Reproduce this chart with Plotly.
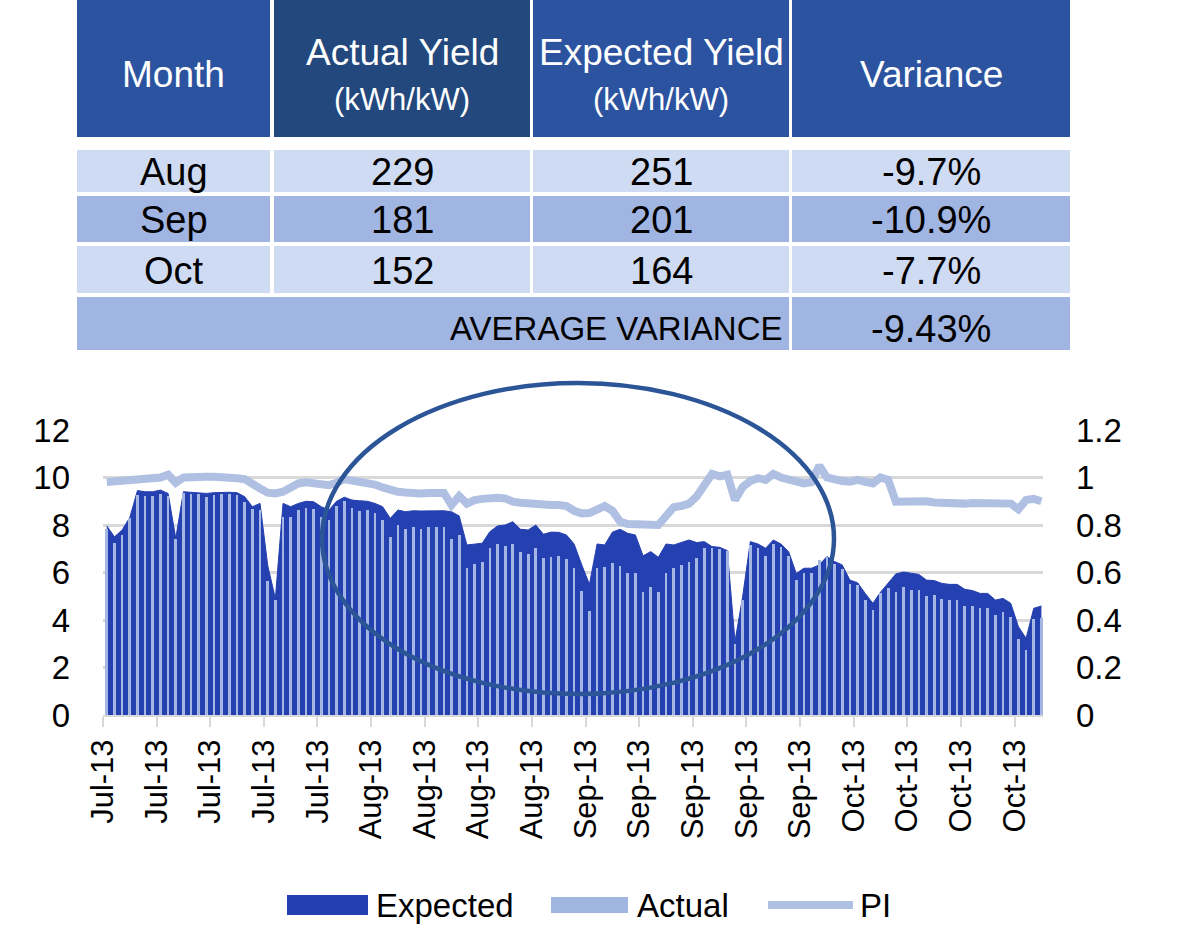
import pandas as pd
import plotly.graph_objects as go

# --- monthly summary table ---
months = ["Aug", "Sep", "Oct"]
actual_yield = [229, 181, 152]
expected_yield = [251, 201, 164]
variance_pct = [-9.7, -10.9, -7.7]
avg_variance_pct = -9.43

# --- daily series, 1 Jul 2013 .. 31 Oct 2013 ---
start_date = "2013-07-01"
expected = [
    7.96, 7.50, 7.79, 8.32, 9.45, 9.40, 9.40, 9.47, 9.33, 7.44,
    9.40, 9.38, 9.36, 9.33, 9.36, 9.38, 9.38, 9.36, 9.19, 8.77,
    8.91, 6.30, 4.90, 8.91, 8.77, 8.91, 9.00, 8.98, 8.77, 8.63,
    9.00, 9.17, 9.05, 9.02, 9.00, 8.91, 8.77, 8.28, 8.63, 8.56,
    8.60, 8.59, 8.60, 8.60, 8.60, 8.56, 8.38, 7.16, 7.20, 7.23,
    7.72, 7.96, 8.00, 8.14, 7.82, 7.79, 8.00, 7.61, 7.70, 7.69,
    7.58, 7.20, 6.32, 5.50, 7.20, 7.16, 7.70, 7.82, 7.65, 7.58,
    6.70, 6.88, 6.64, 7.20, 7.16, 7.26, 7.37, 7.26, 7.30, 7.09,
    7.06, 6.92, 3.10, 4.98, 7.30, 7.20, 7.02, 7.37, 7.20, 6.88,
    5.96, 6.18, 6.18, 6.32, 6.67, 6.46, 6.32, 5.68, 5.57, 5.12,
    4.70, 5.17, 5.54, 5.94, 6.02, 5.96, 5.92, 5.68, 5.66, 5.54,
    5.50, 5.50, 5.29, 5.24, 5.12, 5.12, 4.84, 4.91, 4.70, 3.72,
    3.23, 4.49, 4.59,
]
actual = [
    7.85, 7.25, 7.58, 8.30, 9.26, 9.22, 9.22, 9.30, 9.22, 7.40,
    9.35, 9.30, 9.30, 9.19, 9.25, 9.30, 9.30, 9.25, 8.98, 8.67,
    8.62, 5.65, 4.84, 8.32, 8.32, 8.63, 8.70, 8.67, 8.32, 8.20,
    8.80, 9.00, 8.70, 8.60, 8.63, 8.50, 8.20, 7.51, 8.00, 7.82,
    7.92, 7.85, 7.92, 7.90, 7.92, 7.40, 7.60, 6.20, 6.35, 6.44,
    7.02, 7.20, 7.11, 7.20, 6.86, 6.76, 7.02, 6.60, 6.67, 6.69,
    6.57, 6.20, 5.23, 4.38, 6.18, 6.22, 6.38, 6.27, 5.99, 5.96,
    5.19, 5.40, 5.19, 5.96, 6.18, 6.32, 6.46, 6.60, 7.05, 7.05,
    6.97, 6.92, 3.00, 4.84, 7.16, 7.02, 6.69, 7.20, 7.09, 6.69,
    5.68, 5.99, 5.96, 6.53, 6.65, 6.36, 6.13, 5.52, 5.47, 4.84,
    4.42, 5.12, 5.33, 5.19, 5.40, 5.26, 5.26, 5.01, 5.05, 4.87,
    4.84, 4.84, 4.60, 4.59, 4.52, 4.52, 4.21, 4.35, 4.14, 3.19,
    2.74, 4.03, 4.07,
]
pi = [
    0.981, 0.984, 0.987, 0.990, 0.992, 0.993, 0.995, 1.000, 1.012, 0.978,
    1.000, 1.003, 1.003, 1.003, 1.003, 1.003, 1.003, 0.997, 0.993, 0.978,
    0.954, 0.936, 0.933, 0.940, 0.960, 0.975, 0.980, 0.978, 0.973, 0.968,
    0.978, 0.993, 0.987, 0.982, 0.978, 0.970, 0.958, 0.947, 0.940, 0.937,
    0.933, 0.933, 0.935, 0.935, 0.935, 0.884, 0.922, 0.890, 0.905, 0.910,
    0.915, 0.915, 0.912, 0.898, 0.894, 0.890, 0.888, 0.886, 0.884, 0.884,
    0.880, 0.860, 0.849, 0.850, 0.865, 0.880, 0.860, 0.814, 0.804, 0.804,
    0.800, 0.797, 0.800, 0.838, 0.875, 0.880, 0.890, 0.920, 0.970, 1.015,
    1.005, 1.012, 0.905, 0.960, 0.985, 0.997, 0.990, 1.015, 1.000, 0.990,
    0.985, 0.975, 0.980, 1.050, 1.000, 0.990, 0.985, 0.982, 0.990, 0.982,
    0.975, 1.000, 0.990, 0.898, 0.900, 0.898, 0.898, 0.900, 0.895, 0.892,
    0.892, 0.890, 0.890, 0.893, 0.893, 0.895, 0.894, 0.893, 0.890, 0.866,
    0.905, 0.910, 0.900,
]
dates = pd.date_range(start_date, periods=len(expected), freq="D")

W, H = 1178, 935
FONT = "Liberation Sans, Arial, sans-serif"
DAY = 86400000

def fx(p):
    return p / W

def fy(p):
    return 1 - p / H

fig = go.Figure()

fig.add_trace(go.Scatter(
    x=dates, y=expected, name="Expected", mode="lines",
    fill="tozeroy", fillcolor="#2540B0", line=dict(color="#2540B0", width=1),
    xperiod=DAY, xperiodalignment="middle", yaxis="y",
))
fig.add_trace(go.Scatter(
    x=dates, y=pi, name="PI", mode="lines",
    line=dict(color="#B0C0E2", width=8),
    xperiod=DAY, xperiodalignment="middle", yaxis="y2",
))
fig.add_trace(go.Bar(
    x=dates, y=actual, name="Actual", width=0.35 * DAY,
    marker=dict(color="#A4B6E4", line=dict(width=0)),
    xperiod=DAY, xperiodalignment="middle", yaxis="y3",
))

shapes = []
annotations = []

# table
col_x = [(77, 270), (274, 530), (533, 789), (792, 1070)]
header_fill = ["#2C53A0", "#22487E", "#2C53A0", "#2C53A0"]
light, medium = "#CFDBF2", "#A0B5E2"
row_y = [(150, 192), (196, 242), (246, 293)]
row_fill = [light, medium, light]

def rect(x0, x1, y0, y1, color):
    shapes.append(dict(type="rect", xref="paper", yref="paper",
                       x0=fx(x0), x1=fx(x1), y0=fy(y1), y1=fy(y0),
                       fillcolor=color, line=dict(width=0), layer="below"))

def label(text, x, y, size, color="black", xanchor="center"):
    annotations.append(dict(text=text, x=fx(x), y=fy(y), xref="paper", yref="paper",
                            xanchor=xanchor, yanchor="middle", showarrow=False,
                            font=dict(family=FONT, size=size, color=color)))

for (x0, x1), c in zip(col_x, header_fill):
    rect(x0, x1, 0, 137, c)

headers = ["Month", "Actual Yield", "Expected Yield", "Variance"]
for i, ((x0, x1), h) in enumerate(zip(col_x, headers)):
    cx = (x0 + x1) / 2
    if i in (1, 2):
        label(h, cx, 53, 37, "white")
        label("(kWh/kW)", cx, 100, 31, "white")
    else:
        label(h, cx, 75, 37, "white")

for r, ((y0, y1), c) in enumerate(zip(row_y, row_fill)):
    for x0, x1 in col_x:
        rect(x0, x1, y0, y1, c)
    cells = [months[r], str(actual_yield[r]), str(expected_yield[r]), f"{variance_pct[r]:.1f}%"]
    for (x0, x1), t in zip(col_x, cells):
        label(t, (x0 + x1) / 2, (y0 + y1) / 2 + 1, 38)

rect(77, 789, 297, 350, medium)
rect(792, 1070, 297, 350, medium)
label("AVERAGE VARIANCE", 785, 329, 33, xanchor="right")
label(f"{avg_variance_pct:.2f}%", (792 + 1070) / 2, 329, 38)

# highlight ellipse
shapes.append(dict(type="circle", xref="paper", yref="paper",
                   x0=fx(322), x1=fx(834), y0=fy(694), y1=fy(383),
                   line=dict(color="#2B5597", width=4.5), layer="above"))

# legend
rect(287, 368, 895, 915, "#253FB0")
label("Expected", 374, 905, 33, xanchor="left")
rect(551, 628, 897, 913, "#A1B5E1")
label("Actual", 635, 905, 33, xanchor="left")
shapes.append(dict(type="line", xref="paper", yref="paper",
                   x0=fx(768), x1=fx(853), y0=fy(905), y1=fy(905),
                   line=dict(color="#B0C0E2", width=8)))
label("PI", 858, 905, 33, xanchor="left")

x_tick_font = dict(family=FONT, size=31, color="black")
y_tick_font = dict(family=FONT, size=33, color="black")

fig.update_layout(
    width=W, height=H,
    margin=dict(l=0, r=0, t=0, b=0),
    paper_bgcolor="white", plot_bgcolor="white",
    showlegend=False,
    bargap=0,
    shapes=shapes,
    annotations=annotations,
    xaxis=dict(
        domain=[fx(103), fx(1043)], type="date",
        range=["2013-07-01", "2013-10-31 17:00"],
        tick0=start_date, dtick=7 * DAY, tickformat="%b-%y", tickangle=-90,
        ticks="outside", ticklen=10, tickwidth=2, tickcolor="#D9D9D9",
        showline=True, linecolor="#D9D9D9", linewidth=2,
        showgrid=False, zeroline=False, tickfont=x_tick_font, automargin=False,
    ),
    yaxis=dict(
        domain=[1 - 715 / H, 1 - 430 / H], range=[0, 12], dtick=2,
        showgrid=True, gridcolor="#D9D9D9", gridwidth=2.5,
        zeroline=False, showline=False, ticks="", tickfont=y_tick_font,
        ticklabelstandoff=32, automargin=False,
    ),
    yaxis2=dict(
        overlaying="y", side="right", anchor="x", range=[0, 1.2], dtick=0.2,
        showgrid=False, zeroline=False, showline=False, ticks="",
        tickfont=y_tick_font, ticklabelstandoff=32, automargin=False,
    ),
    yaxis3=dict(overlaying="y", range=[0, 12], visible=False),
)

# the page's default body margin would push the figure 8px off the corner
fig.write_html("out.html", config={"displayModeBar": False},
               post_script="document.body.style.margin='0';")
